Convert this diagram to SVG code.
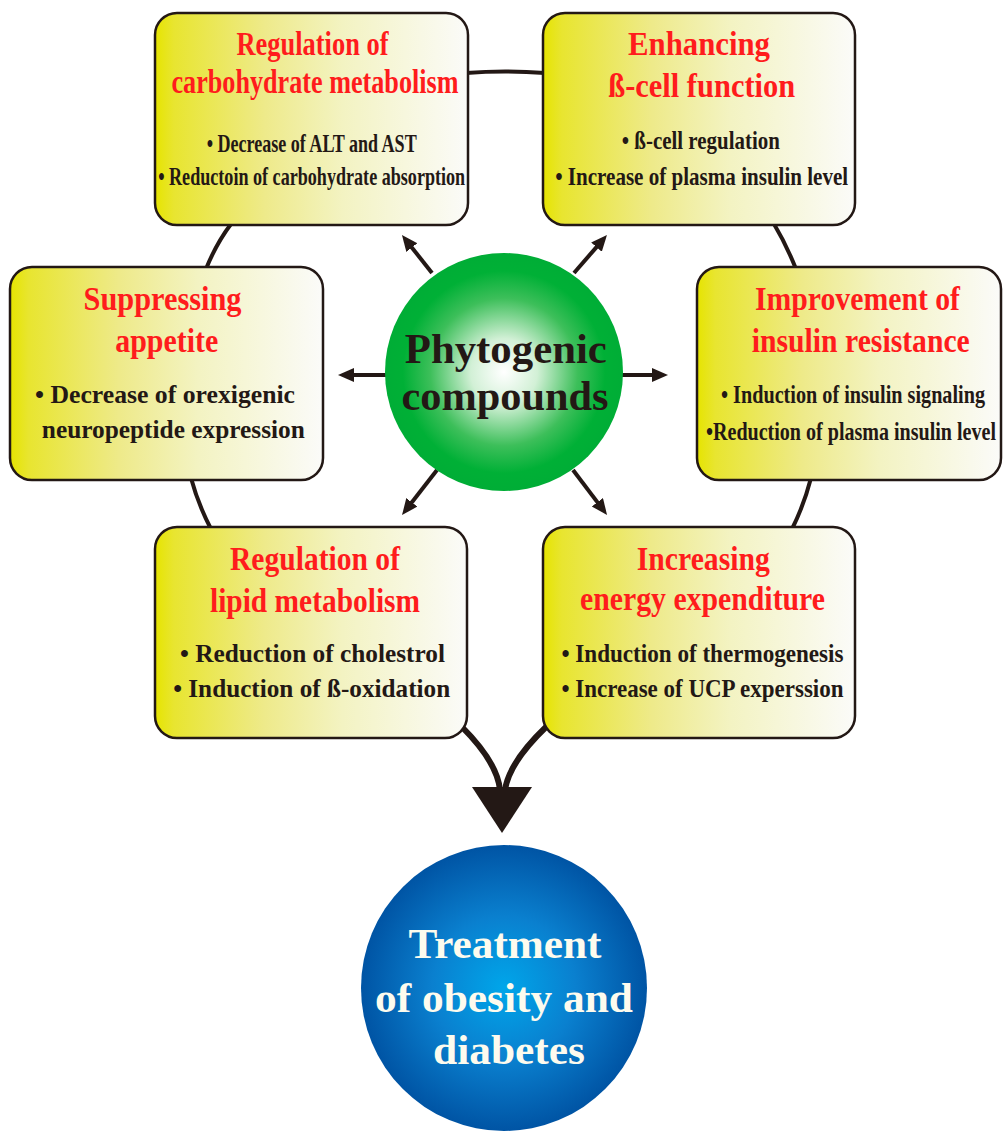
<svg xmlns="http://www.w3.org/2000/svg" width="1003" height="1134" viewBox="0 0 1003 1134">
<defs>
<linearGradient id="boxg" x1="0" y1="0" x2="1" y2="0">
<stop offset="0" stop-color="#e6e400"/>
<stop offset="0.06" stop-color="#e8e530"/>
<stop offset="0.35" stop-color="#eeea8a"/>
<stop offset="0.6" stop-color="#f3f3c2"/>
<stop offset="1" stop-color="#fbfbf9"/>
</linearGradient>
<radialGradient id="greeng" cx="0.5" cy="0.5" r="0.5">
<stop offset="0" stop-color="#ffffff"/>
<stop offset="0.28" stop-color="#d2f0d6"/>
<stop offset="0.62" stop-color="#3dbf5a"/>
<stop offset="0.85" stop-color="#00b036"/>
<stop offset="1" stop-color="#00ad36"/>
</radialGradient>
<radialGradient id="blueg" cx="0.5" cy="0.5" r="0.5">
<stop offset="0" stop-color="#00a6ea"/>
<stop offset="0.5" stop-color="#0a80cf"/>
<stop offset="1" stop-color="#0054a4"/>
</radialGradient>
<marker id="ah" markerUnits="userSpaceOnUse" markerWidth="18" markerHeight="16" refX="4" refY="7" orient="auto">
<path d="M0,0 L16,7 L0,14 z" fill="#231815"/>
</marker>
<style>
.box{fill:url(#boxg);stroke:#231815;stroke-width:2.5}
.t{font-family:"Liberation Serif","Times New Roman",serif;font-weight:bold;fill:#ff1c1c;text-anchor:middle;font-size:34px}
.b{font-family:"Liberation Serif","Times New Roman",serif;font-weight:bold;fill:#231815;text-anchor:middle;font-size:26px}
.c{font-family:"Liberation Serif","Times New Roman",serif;font-weight:bold;text-anchor:middle;font-size:42px}
.arc{fill:none;stroke:#231815;stroke-width:4}
.ar{fill:none;stroke:#231815;stroke-width:4;marker-end:url(#ah)}
.dn{fill:none;stroke:#231815;stroke-width:6}
</style>
</defs>
<rect width="1003" height="1134" fill="#ffffff"/>
<g id="connectors">
<path class="arc" d="M466 73 Q505 70 545 73"/>
<path class="arc" d="M231 224 Q216 244 206 269"/>
<path class="arc" d="M774 224 Q786 244 796 269"/>
<path class="arc" d="M191 478 Q198 504 211 529"/>
<path class="arc" d="M811 478 Q804 505 792 529"/>
<line class="ar" x1="386" y1="375" x2="350" y2="375"/>
<line class="ar" x1="622" y1="375" x2="656" y2="375"/>
<line class="ar" x1="432" y1="273" x2="409.4" y2="244.4"/>
<line class="ar" x1="574" y1="273" x2="599.1" y2="244.1"/>
<line class="ar" x1="437" y1="470" x2="409.4" y2="505.5"/>
<line class="ar" x1="573" y1="470" x2="599.8" y2="505.4"/>
<path class="dn" d="M462 727 C485 750 498 770 500 790"/>
<path class="dn" d="M546 727 C522 750 508 770 505 790"/>
<polygon points="472,787 532,787 502,833" fill="#231815"/>
</g>
<g id="node-carbohydrate">
<rect class="box" x="155" y="13" width="313" height="212" rx="22"/>
<text class="t" x="312.5" y="55" font-size="31" textLength="152" lengthAdjust="spacingAndGlyphs">Regulation of</text>
<text class="t" x="315" y="93" font-size="31" textLength="287" lengthAdjust="spacingAndGlyphs">carbohydrate metabolism</text>
<text class="b" x="311.7" y="151.5" font-size="24" textLength="210" lengthAdjust="spacingAndGlyphs">• Decrease of ALT and AST</text>
<text class="b" x="311.7" y="185" font-size="24" textLength="307" lengthAdjust="spacingAndGlyphs">• Reductoin of carbohydrate absorption</text>
</g>
<g id="node-betacell">
<rect class="box" x="543" y="13" width="312" height="212" rx="22"/>
<text class="t" x="699" y="55" textLength="142" lengthAdjust="spacingAndGlyphs">Enhancing</text>
<text class="t" x="701.7" y="97" textLength="187" lengthAdjust="spacingAndGlyphs">ß-cell function</text>
<text class="b" x="700.8" y="148.5" textLength="158" lengthAdjust="spacingAndGlyphs">• ß-cell regulation</text>
<text class="b" x="701.7" y="185" textLength="293" lengthAdjust="spacingAndGlyphs">• Increase of plasma insulin level</text>
</g>
<g id="node-appetite">
<rect class="box" x="10" y="267" width="313" height="213" rx="22"/>
<text class="t" x="162.5" y="310" textLength="158" lengthAdjust="spacingAndGlyphs">Suppressing</text>
<text class="t" x="166.7" y="351.5" textLength="103" lengthAdjust="spacingAndGlyphs">appetite</text>
<text class="b" x="165" y="403.3" textLength="260" lengthAdjust="spacingAndGlyphs">• Decrease of orexigenic</text>
<text class="b" x="173.3" y="438.3" textLength="263" lengthAdjust="spacingAndGlyphs">neuropeptide expression</text>
</g>
<g id="node-insulin">
<rect class="box" x="697" y="267" width="304" height="213" rx="22"/>
<text class="t" x="857.5" y="310" textLength="205" lengthAdjust="spacingAndGlyphs">Improvement of</text>
<text class="t" x="860.8" y="351.5" textLength="218" lengthAdjust="spacingAndGlyphs">insulin resistance</text>
<text class="b" x="853" y="403.3" textLength="264" lengthAdjust="spacingAndGlyphs">• Induction of insulin signaling</text>
<text class="b" x="851" y="440" textLength="290" lengthAdjust="spacingAndGlyphs">•Reduction of plasma insulin level</text>
</g>
<g id="node-lipid">
<rect class="box" x="155" y="527" width="312" height="211" rx="22"/>
<text class="t" x="315" y="570" textLength="170" lengthAdjust="spacingAndGlyphs">Regulation of</text>
<text class="t" x="315" y="611.5" textLength="210" lengthAdjust="spacingAndGlyphs">lipid metabolism</text>
<text class="b" x="312.5" y="661.7" textLength="265" lengthAdjust="spacingAndGlyphs">• Reduction of cholestrol</text>
<text class="b" x="311.7" y="696.7" textLength="277" lengthAdjust="spacingAndGlyphs">• Induction of ß-oxidation</text>
</g>
<g id="node-energy">
<rect class="box" x="543" y="527" width="312" height="211" rx="22"/>
<text class="t" x="703.3" y="570" textLength="133" lengthAdjust="spacingAndGlyphs">Increasing</text>
<text class="t" x="702.5" y="610" textLength="245" lengthAdjust="spacingAndGlyphs">energy expenditure</text>
<text class="b" x="702.5" y="661.7" textLength="282" lengthAdjust="spacingAndGlyphs">• Induction of thermogenesis</text>
<text class="b" x="702.5" y="696.7" textLength="282" lengthAdjust="spacingAndGlyphs">• Increase of UCP experssion</text>
</g>
<g id="node-phytogenic">
<circle cx="504" cy="372" r="119" fill="url(#greeng)"/>
<text class="c" x="505.8" y="363" fill="#231815" textLength="202" lengthAdjust="spacingAndGlyphs">Phytogenic</text>
<text class="c" x="505" y="410" fill="#231815" textLength="207" lengthAdjust="spacingAndGlyphs">compounds</text>
</g>
<g id="node-treatment">
<circle cx="504" cy="988" r="143" fill="url(#blueg)"/>
<text class="c" x="505" y="958" fill="#fdfbee" textLength="193" lengthAdjust="spacingAndGlyphs">Treatment</text>
<text class="c" x="504" y="1011.5" fill="#fdfbee" textLength="258" lengthAdjust="spacingAndGlyphs">of obesity and</text>
<text class="c" x="509" y="1064" fill="#fdfbee" textLength="152" lengthAdjust="spacingAndGlyphs">diabetes</text>
</g>
</svg>
